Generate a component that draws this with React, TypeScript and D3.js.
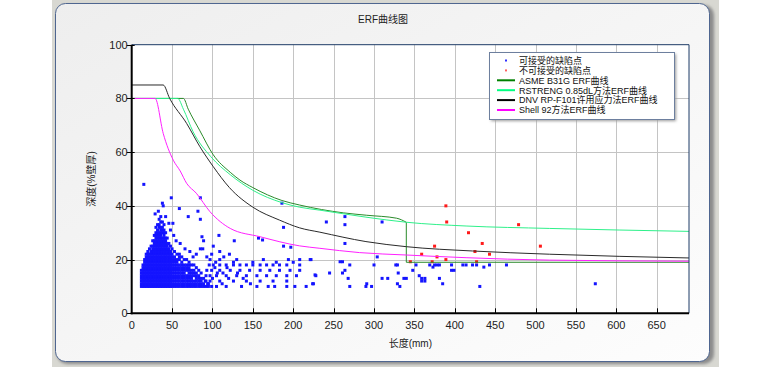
import * as React from "react"
import * as d3 from "d3"

const W = 767
const H = 367

const xTicks = [0, 50, 100, 150, 200, 250, 300, 350, 400, 450, 500, 550, 600, 650]
const yTicks = [0, 20, 40, 60, 80, 100]

// curves (length mm, depth %)
const asmeCurve: [number, number][] = [
  [0, 80], [64, 80], [70, 76], [84, 68.2], [101, 59], [122, 52.5], [134, 49.6],
  [150, 46.8], [186, 42], [208, 40.3], [262, 37.4], [291, 36.5], [328, 35.4], [340, 33.9],
]
const asmeTail: [number, number][] = [[340, 33.9], [340, 19], [690, 19]]
const rstrengCurve: [number, number][] = [
  [0, 80], [57, 80], [64, 76], [76, 67.6], [98, 58.3], [122, 51.6], [150, 45.8],
  [186, 41.2], [208, 39.5], [233, 38.4], [290, 35.8], [340, 33.9], [414, 32.5],
  [517, 31.6], [690, 30.5],
]
const dnvCurve: [number, number][] = [
  [0, 85], [39, 85], [47, 80], [68, 70.7], [84.5, 62], [101, 54.6], [121, 46.8],
  [150, 39.5], [183, 34.7], [208, 31.8], [233, 30.2], [290, 26.7], [340, 24.8],
  [422, 23.2], [517, 22], [690, 20.6],
]
const shellCurve: [number, number][] = [
  [0, 80], [29, 80], [39, 67], [51.5, 57], [60, 53], [68, 48.4], [80, 44.7],
  [97, 37.8], [122, 31.6], [159, 28.5], [208, 25.1], [233, 24.2], [282, 22.6],
  [340, 21.7], [414, 20.7], [517, 19.8], [690, 19.4],
]

// dense cluster of acceptable defects: length -> depths
const blobColumns: [number, number[]][] = [
  [12, [10, 11, 12, 13, 14, 15, 16]],
  [14, [10, 11, 12, 13, 14, 15, 16, 17, 18]],
  [16, [10, 11, 12, 13, 14, 15, 16, 17, 18, 19, 20]],
  [18, [10, 11, 12, 13, 14, 15, 16, 17, 18, 19, 20, 21, 22]],
  [20, [10, 11, 12, 13, 14, 15, 16, 17, 18, 19, 20, 21, 22, 23]],
  [22, [10, 11, 12, 13, 14, 15, 16, 17, 18, 19, 20, 21, 22, 24]],
  [24, [10, 11, 12, 13, 14, 15, 16, 17, 18, 19, 20, 21, 22, 23, 25]],
  [26, [10, 11, 12, 13, 14, 15, 16, 17, 18, 19, 20, 21, 22, 23, 24, 25, 27]],
  [28, [10, 11, 12, 13, 14, 15, 16, 17, 18, 19, 20, 21, 22, 23, 24, 25, 26, 27, 29]],
  [30, [10, 11, 12, 13, 14, 15, 16, 17, 18, 19, 20, 21, 22, 23, 24, 25, 26, 27, 28, 29, 30, 32]],
  [32, [10, 11, 12, 13, 14, 15, 16, 17, 18, 19, 20, 21, 22, 23, 24, 25, 26, 27, 28, 29, 30, 31, 33]],
  [34, [10, 11, 12, 13, 14, 15, 16, 17, 18, 19, 20, 21, 22, 23, 24, 25, 26, 27, 28, 29, 30, 32, 33, 35]],
  [36, [10, 11, 12, 13, 14, 15, 16, 17, 18, 19, 20, 21, 22, 23, 24, 25, 26, 27, 28, 29, 30, 31, 32, 34, 36]],
  [38, [10, 11, 12, 13, 14, 15, 16, 17, 18, 19, 20, 21, 22, 23, 24, 25, 26, 27, 28, 30, 31, 32, 34]],
  [40, [10, 11, 12, 13, 14, 15, 16, 17, 18, 19, 20, 21, 22, 23, 24, 25, 26, 27, 28, 29, 30, 31, 33]],
  [42, [10, 11, 12, 13, 14, 15, 16, 17, 18, 19, 20, 21, 22, 23, 24, 25, 26, 27, 28, 30]],
  [44, [10, 11, 12, 13, 14, 15, 16, 17, 18, 19, 20, 21, 22, 23, 24, 25, 26, 28]],
  [46, [10, 11, 12, 13, 14, 15, 16, 17, 18, 19, 20, 21, 22, 23, 24, 26]],
  [48, [10, 11, 12, 13, 14, 15, 16, 17, 18, 19, 20, 21, 22, 23, 25]],
  [50, [10, 11, 12, 13, 14, 15, 16, 17, 18, 19, 20, 21, 22, 24]],
  [53, [10, 11, 12, 13, 14, 15, 16, 17, 18, 19, 20, 21, 23]],
  [56, [10, 11, 12, 13, 14, 15, 16, 17, 18, 19, 20, 22]],
  [59, [10, 11, 12, 13, 14, 15, 16, 17, 18, 20, 21, 22]],
  [62, [10, 11, 12, 13, 14, 15, 16, 17, 18, 19, 21]],
  [65, [10, 11, 12, 13, 14, 15, 16, 17, 18, 20]],
  [68, [10, 11, 12, 13, 14, 16, 17, 18, 20]],
  [71, [10, 11, 12, 13, 14, 15, 16, 17, 18, 19]],
  [74, [10, 11, 12, 13, 14, 15, 16, 18]],
  [77, [10, 11, 12, 14, 15, 16, 18]],
  [80, [10, 11, 12, 13, 14, 15, 17]],
  [83, [10, 11, 12, 13, 14, 16]],
  [86, [10, 11, 12, 13, 15]],
  [89, [10, 11, 13]],
  [92, [10, 12]],
  [95, [10, 11]],
]

const acceptedScatter: [number, number][] = [
  [15, 48], [49, 43], [38, 41], [39, 40], [29, 37], [33, 38], [59, 39], [85, 43],
  [82, 38], [70, 36], [85, 35], [42, 36], [46, 33.5], [51, 33.5], [87, 28.5], [89, 27],
  [108, 29], [127, 27], [101, 25], [85, 24], [88, 24], [157, 28], [162, 27.3], [109, 23],
  [188, 32], [186, 41], [197, 24.6], [188, 25], [221, 20], [227, 14.3], [224, 11],
  [264, 36], [241, 34], [264, 33], [310, 34], [264, 26], [304, 21], [222, 20], [258, 19.2],
  [261, 19.2], [208, 18], [264, 16], [270, 18], [245, 15], [261, 15], [228, 14], [268, 13],
  [225, 11], [270, 10], [290, 10], [291, 11], [297, 10], [300, 18], [310, 13], [317, 13],
  [329, 11], [332, 10], [327, 18], [329, 18], [330, 15], [337, 13], [340, 13], [348, 16],
  [352, 18], [356, 14], [359, 13], [363, 13], [359, 12], [363, 12], [369, 18], [373, 17.2],
  [375, 18], [378, 18], [381, 18], [381, 13], [385, 11], [396, 18], [396, 16], [399, 16],
  [410, 18], [414, 18], [422, 18], [427, 18], [436, 17.2], [443, 18], [431, 10], [464, 18],
  [574, 11],
  // sparse points right of the cluster
  [97, 20], [109, 20], [126, 19], [130, 20], [150, 19], [163, 20], [179, 19], [194, 20],
  [200, 19], [208, 20], [96, 18], [101, 18], [109, 18], [117, 18], [126, 18],
  [134, 18], [142, 18], [150, 18], [159, 18], [167, 18], [175, 18], [183, 18], [192, 18],
  [93, 16], [99, 16], [109, 16], [122, 16], [134, 16], [146, 16], [159, 16], [171, 16],
  [183, 16], [196, 16], [208, 16], [92, 14], [97, 14], [105, 14], [117, 14], [130, 14], [142, 14],
  [155, 14], [167, 14], [179, 14], [192, 14], [204, 14], [91, 12], [97, 12], [109, 12], [126, 12],
  [142, 12], [159, 12], [175, 12], [192, 12], [99, 10], [105, 10], [117, 10], [136, 10],
  [155, 10], [169, 10], [177, 10], [192, 10], [202, 10], [216, 10],
  [93, 21], [99, 22], [104, 19], [113, 15], [120, 13], [112, 11], [103, 17], [114, 21],
  [94, 11], [100, 13], [106, 15], [118, 17], [121, 22], [131, 15], [138, 13], [147, 11],
  [76, 21], [80, 22], [72, 23], [66, 24], [60, 26], [55, 27], [52, 29], [48, 31],
]

const rejectedScatter: [number, number][] = [
  [389, 40], [390, 34], [479, 33], [417, 30], [434, 26], [375, 25], [506, 25], [425, 23],
  [359, 22], [378, 21], [443, 22], [389, 20], [345, 19.2], [372, 19.2], [427, 19.2],
]

const legendItems = [
  { label: "可接受的缺陷点", color: "#3030ff", kind: "dot" },
  { label: "不可接受的缺陷点", color: "#ff6060", kind: "dot" },
  { label: "ASME B31G ERF曲线", color: "#008000", kind: "line" },
  { label: "RSTRENG 0.85dL方法ERF曲线", color: "#00ff80", kind: "line" },
  { label: "DNV RP-F101许用应力法ERF曲线", color: "#000000", kind: "line" },
  { label: "Shell 92方法ERF曲线", color: "#ff00ff", kind: "line" },
]

const NUM_FONT = "'Liberation Sans', Arial, sans-serif"
const MIX_FONT = "'Liberation Sans', 'Noto Sans CJK SC', sans-serif"

export default function App() {
  const left = 131.7
  const right = 689
  const top = 44.7
  const bottom = 313.3

  const x = d3.scaleLinear().domain([0, 690]).range([left, right])
  const y = d3.scaleLinear().domain([0, 100]).range([bottom, top])

  const smooth = d3
    .line<[number, number]>()
    .x((d) => x(d[0]))
    .y((d) => y(d[1]))
    .curve(d3.curveMonotoneX)
  const straight = d3
    .line<[number, number]>()
    .x((d) => x(d[0]))
    .y((d) => y(d[1]))

  const blobPoints: [number, number][] = []
  blobColumns.forEach(([len, depths]) => {
    depths.forEach((dep) => blobPoints.push([len, dep]))
  })
  const accepted = blobPoints.concat(acceptedScatter)

  const lg = { x: 489, y: 52, w: 185, h: 67 }

  return (
    <svg
      width={W}
      height={H}
      style={{ position: "absolute", left: 0, top: 0, background: "#fff" }}
    >
      <defs>
        <linearGradient id="framebg" x1="0%" y1="0%" x2="100%" y2="100%">
          <stop offset="0%" stopColor="#eeeeee" />
          <stop offset="100%" stopColor="#fdfdfd" />
        </linearGradient>
        <filter id="blur" x="-5%" y="-5%" width="110%" height="110%">
          <feGaussianBlur stdDeviation="1.5" />
        </filter>
        <clipPath id="plotclip">
          <rect x={left} y={top} width={right - left} height={bottom - top} />
        </clipPath>
      </defs>

      {/* window frame */}
      <rect x={52} y={0} width={667} height={367} fill="#d8d8d2" />
      <rect x={57} y={5} width={657} height={359} rx={10} fill="#8c8c8c" filter="url(#blur)" />
      <rect x={55.5} y={3.5} width={654} height={358} rx={10} fill="url(#framebg)" stroke="#4f6690" />

      <text x={383} y={23} textAnchor="middle" fontSize={10} fontFamily={MIX_FONT} fill="#222">
        ERF曲线图
      </text>

      {/* plot area */}
      <rect x={left} y={top} width={right - left} height={bottom - top} fill="#fff" />
      <g stroke="#c4c4c4" strokeWidth={1}>
        {xTicks.slice(1).map((t) => (
          <line key={"gx" + t} x1={Math.round(x(t)) + 0.5} x2={Math.round(x(t)) + 0.5} y1={top} y2={bottom} />
        ))}
        {yTicks.slice(1, -1).map((t) => (
          <line key={"gy" + t} x1={left} x2={right} y1={Math.round(y(t)) + 0.5} y2={Math.round(y(t)) + 0.5} />
        ))}
      </g>

      <g clipPath="url(#plotclip)">
        <g fill="#1414ff">
          {accepted.map((d, i) => (
            <rect key={"a" + i} x={x(d[0]) - 1.5} y={y(d[1]) - 1.5} width={3} height={3} />
          ))}
        </g>
        <g fill="#ff1a1a">
          {rejectedScatter.map((d, i) => (
            <rect key={"r" + i} x={x(d[0]) - 1.5} y={y(d[1]) - 1.5} width={3} height={3} />
          ))}
        </g>
        <g fill="none" strokeWidth={1}>
          <path d={smooth(asmeCurve) || ""} stroke="#2a8a2a" />
          <path d={straight(asmeTail) || ""} stroke="#2a8a2a" />
          <path d={smooth(rstrengCurve) || ""} stroke="#2ef08a" />
          <path d={smooth(dnvCurve) || ""} stroke="#2a2a2a" />
          <path d={smooth(shellCurve) || ""} stroke="#ff20ff" />
        </g>
      </g>

      {/* plot border and axes */}
      <path
        d={`M${left},${top}H${right}V${bottom}`}
        fill="none"
        stroke="#1d3a66"
        strokeWidth={1}
      />
      <line x1={left} x2={left} y1={top} y2={bottom + 1} stroke="#000" strokeWidth={2} />
      <line x1={left - 1} x2={right} y1={bottom} y2={bottom} stroke="#000" strokeWidth={2} />

      {/* ticks */}
      <g stroke="#000" strokeWidth={1}>
        {xTicks.slice(1).map((t) => (
          <line key={"tx" + t} x1={Math.round(x(t)) + 0.5} x2={Math.round(x(t)) + 0.5} y1={bottom - 5} y2={bottom} />
        ))}
        {yTicks.map((t) => (
          <line key={"ty" + t} x1={left - 5} x2={left + 3} y1={Math.round(y(t)) + 0.5} y2={Math.round(y(t)) + 0.5} />
        ))}
      </g>
      <g fontFamily={NUM_FONT} fontSize={11} fill="#222">
        {xTicks.map((t) => (
          <text key={"lx" + t} x={x(t)} y={329} textAnchor="middle">
            {t}
          </text>
        ))}
        {yTicks.map((t) => (
          <text key={"ly" + t} x={left - 4} y={y(t) + 4} textAnchor="end">
            {t}
          </text>
        ))}
      </g>

      <text x={(left + right) / 2} y={347} textAnchor="middle" fontSize={10} fontFamily={MIX_FONT} fill="#222">
        长度(mm)
      </text>
      <text
        transform={`translate(95, ${(top + bottom) / 2}) rotate(-90)`}
        textAnchor="middle"
        fontSize={10}
        fontFamily={MIX_FONT}
        fill="#222"
      >
        深度(%壁厚)
      </text>

      {/* legend */}
      <rect x={lg.x + 2} y={lg.y + 2} width={lg.w} height={lg.h} fill="#9a9a9a" filter="url(#blur)" />
      <rect x={lg.x + 0.5} y={lg.y + 0.5} width={lg.w} height={lg.h} fill="#fff" stroke="#6d7f9e" />
      {legendItems.map((it, i) => {
        const cy = lg.y + 8.5 + i * 9.9
        return (
          <g key={it.label}>
            {it.kind === "dot" ? (
              <rect x={505} y={cy - 1} width={2} height={2} fill={it.color} />
            ) : (
              <line x1={497} x2={515} y1={cy} y2={cy} stroke={it.color} strokeWidth={2} />
            )}
            <text x={519} y={cy + 3.3} fontSize={9} fontFamily={MIX_FONT} fill="#111">
              {it.label}
            </text>
          </g>
        )
      })}
    </svg>
  )
}
